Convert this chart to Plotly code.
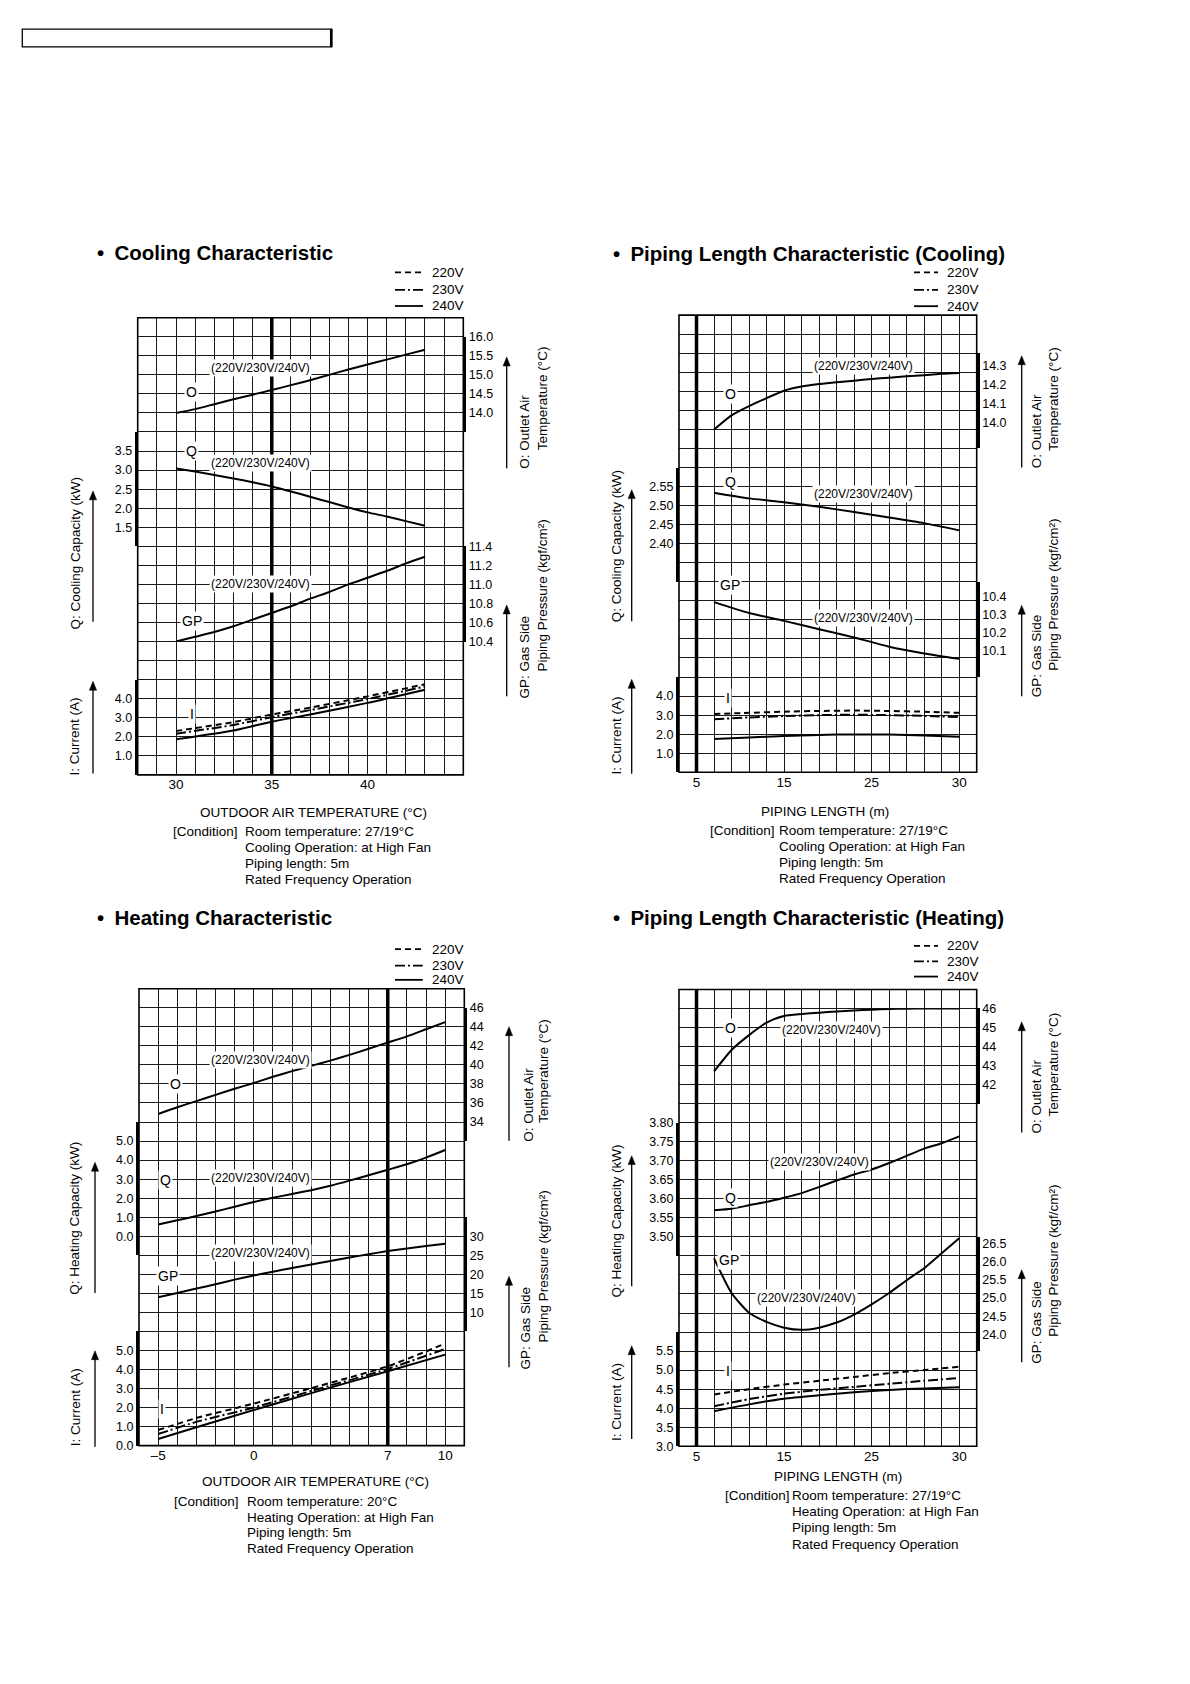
import plotly.graph_objects as go

W, H = 1190, 1684
FONT = "Liberation Sans, Arial, Helvetica, sans-serif"
GRID = "#1a1a1a"

# ======================= DATA =======================
# --- Cooling characteristic (x: outdoor air temperature, degC)
cool_temp = [30, 31, 32, 33, 34, 35, 36, 37, 38, 39, 40, 41, 42, 43]
cool_outlet_temp = [14.00, 14.10, 14.23, 14.36, 14.48, 14.60, 14.73, 14.86, 15.00, 15.14, 15.27, 15.40, 15.53, 15.66]
cool_capacity = [3.04, 2.96, 2.87, 2.78, 2.68, 2.57, 2.44, 2.30, 2.16, 2.02, 1.89, 1.78, 1.66, 1.54]
cool_gas_pressure = [10.40, 10.45, 10.50, 10.56, 10.63, 10.70, 10.77, 10.85, 10.92, 11.00, 11.07, 11.14, 11.22, 11.29]
cool_cur_temp = [30, 33, 35, 37, 40, 43]
cool_current_220v = [2.30, 2.77, 3.17, 3.53, 4.12, 4.76]
cool_current_230v = [2.16, 2.62, 3.03, 3.40, 3.98, 4.64]
cool_current_240v = [1.87, 2.33, 2.79, 3.17, 3.78, 4.47]

# --- Piping length characteristic (cooling) (x: axis units, ticks labelled 5/15/25/30)
pipe_len_ticks = [5, 15, 25, 35]
pipe_len_labels = ["5", "15", "25", "30"]
pc_len = [7, 9, 11, 13, 15, 17, 19, 21, 23, 25, 27, 29, 31, 33, 35]
pc_outlet_temp = [13.963, 14.038, 14.087, 14.129, 14.168, 14.190, 14.203, 14.213, 14.221, 14.230, 14.237, 14.244, 14.250, 14.257, 14.262]
pc_len2 = [7, 11, 15, 19, 23, 27, 31, 35]
pc_capacity = [2.534, 2.519, 2.509, 2.497, 2.483, 2.469, 2.454, 2.435]
pc_gas_pressure = [10.367, 10.307, 10.264, 10.218, 10.173, 10.122, 10.085, 10.055]
pc_current_220v = [3.06, 3.12, 3.18, 3.22, 3.24, 3.22, 3.18, 3.12]
pc_current_230v = [2.78, 2.88, 2.95, 3.00, 3.02, 3.00, 2.96, 2.90]
pc_current_240v = [1.75, 1.83, 1.90, 1.96, 1.99, 1.98, 1.93, 1.86]

# --- Heating characteristic (x: outdoor air temperature, degC)
heat_temp = [-5, -4, -3, -2, -1, 0, 1, 2, 3, 4, 5, 6, 7, 8, 9, 10]
heat_outlet_temp = [34.85, 35.55, 36.20, 36.85, 37.50, 38.10, 38.75, 39.35, 39.90, 40.45, 41.05, 41.70, 42.35, 43.00, 43.75, 44.50]
heat_capacity = [0.62, 0.84, 1.06, 1.30, 1.55, 1.80, 2.02, 2.22, 2.42, 2.65, 2.92, 3.20, 3.49, 3.78, 4.13, 4.53]
heat_gas_pressure = [13.96, 15.10, 16.25, 17.40, 18.60, 19.70, 20.70, 21.65, 22.60, 23.50, 24.40, 25.28, 26.10, 26.80, 27.45, 28.04]
heat_cur_temp = [-5, -3, 0, 3, 7, 10]
heat_current_220v = [0.82, 1.45, 2.21, 3.02, 4.17, 5.36]
heat_current_230v = [0.61, 1.25, 2.00, 2.87, 4.03, 5.08]
heat_current_240v = [0.35, 0.97, 1.87, 2.76, 3.91, 4.78]

# --- Piping length characteristic (heating)
ph_len = [7, 9, 11, 13, 15, 17, 19, 21, 23, 25, 27, 29, 31, 33, 35]
ph_outlet_temp = [42.69, 43.82, 44.60, 45.26, 45.61, 45.71, 45.78, 45.84, 45.89, 45.94, 45.97, 45.99, 46.00, 46.00, 46.00]
ph_capacity = [3.570, 3.574, 3.583, 3.592, 3.603, 3.615, 3.631, 3.648, 3.664, 3.677, 3.694, 3.713, 3.732, 3.746, 3.764]
ph_gas_pressure = [26.09, 25.14, 24.60, 24.35, 24.19, 24.13, 24.19, 24.33, 24.55, 24.83, 25.14, 25.49, 25.82, 26.23, 26.64]
ph_len2 = [7, 11, 15, 19, 23, 27, 31, 35]
ph_current_220v = [4.36, 4.50, 4.62, 4.72, 4.82, 4.92, 5.00, 5.09]
ph_current_230v = [4.05, 4.24, 4.38, 4.48, 4.56, 4.64, 4.72, 4.79]
ph_current_240v = [3.92, 4.10, 4.25, 4.34, 4.42, 4.48, 4.52, 4.55]

voltages = ["220V", "230V", "240V"]

# ======================= HELPERS =======================
SOLID = "solid"
DASH = "6px,4px"
DASHDOT = "10px,3px,2px,3px"
VDASH = {"220V": DASH, "230V": DASHDOT, "240V": SOLID}


def xd(v):
    return v / W


def yd(v):
    return 1 - v / H


def aname(k, n):
    return f"{k}axis" + ("" if n == 1 else str(n))


def aref(k, n):
    return k + ("" if n == 1 else str(n))


fig = go.Figure()
layout = {}
shapes = []
annotations = []


def ann(text, x, y, size=13.5, xanchor="center", yanchor="middle", weight="normal", **kw):
    d = dict(text=text, x=xd(x), y=yd(y), xref="paper", yref="paper", showarrow=False,
             xanchor=xanchor, yanchor=yanchor,
             font=dict(size=size, family=FONT, color="black", weight=weight))
    d.update(kw)
    annotations.append(d)


def arrow(x, tail, tip):
    shapes.append(dict(type="line", xref="paper", yref="paper", x0=xd(x), x1=xd(x), y0=yd(tail), y1=yd(tip + 6),
                       line=dict(color="black", width=1.3)))
    path = "M {:.5f},{:.5f} L {:.5f},{:.5f} L {:.5f},{:.5f} Z".format(
        xd(x - 3.6), yd(tip + 9), xd(x), yd(tip), xd(x + 3.6), yd(tip + 9))
    shapes.append(dict(type="path", xref="paper", yref="paper", path=path, fillcolor="black",
                       line=dict(color="black", width=0.5)))


KEYS = ["O", "Q", "GP", "I"]

# box = (left, top, right, bottom) of the graph paper in pixels; 17 columns x 24 rows
panels = [
    dict(box=(137.7, 313.3, 463.3, 774.3), xrange=[28, 45], xtv=[30, 35, 40], xtt=["30", "35", "40"], vline=35,
         axes=dict(O=((1, 6), [13.5, 16.0], [14.0, 14.5, 15.0, 15.5, 16.0], ".1f", "right"),
                   Q=((6, 12), [1.0, 4.0], [1.5, 2.0, 2.5, 3.0, 3.5], ".1f", "left"),
                   GP=((12, 17), [10.4, 11.4], [10.4, 10.6, 10.8, 11.0, 11.2, 11.4], ".1f", "right"),
                   I=((19, 24), [0.0, 5.0], [1.0, 2.0, 3.0, 4.0], ".1f", "left")),
         series=[("O", cool_temp, cool_outlet_temp, SOLID), ("Q", cool_temp, cool_capacity, SOLID),
                 ("GP", cool_temp, cool_gas_pressure, SOLID),
                 ("I", cool_cur_temp, cool_current_220v, VDASH["220V"]),
                 ("I", cool_cur_temp, cool_current_230v, VDASH["230V"]),
                 ("I", cool_cur_temp, cool_current_240v, VDASH["240V"])]),
    dict(box=(679.0, 310.7, 976.7, 771.7), xrange=[3, 37], xtv=pipe_len_ticks, xtt=pipe_len_labels, vline=5,
         axes=dict(O=((2, 7), [13.863, 14.366], [14.0, 14.1, 14.2, 14.3], ".1f", "right"),
                   Q=((8, 14), [2.30, 2.60], [2.40, 2.45, 2.50, 2.55], ".2f", "left"),
                   GP=((14, 19), [9.955, 10.479], [10.1, 10.2, 10.3, 10.4], ".1f", "right"),
                   I=((19, 24), [0.0, 5.0], [1.0, 2.0, 3.0, 4.0], ".1f", "left")),
         series=[("O", pc_len, pc_outlet_temp, SOLID), ("Q", pc_len2, pc_capacity, SOLID),
                 ("GP", pc_len2, pc_gas_pressure, SOLID),
                 ("I", pc_len2, pc_current_220v, VDASH["220V"]),
                 ("I", pc_len2, pc_current_230v, VDASH["230V"]),
                 ("I", pc_len2, pc_current_240v, VDASH["240V"])]),
    dict(box=(139.0, 990.0, 464.3, 1450.7), xrange=[-6, 11], xtv=[-5, 0, 7, 10], xtt=["\u20135", "0", "7", "10"],
         vline=7,
         axes=dict(O=((1, 8), [32, 46], [34, 36, 38, 40, 42, 44, 46], "d", "right"),
                   Q=((7, 14), [-1.0, 6.0], [0.0, 1.0, 2.0, 3.0, 4.0, 5.0], ".1f", "left"),
                   GP=((12, 18), [5, 35], [10, 15, 20, 25, 30], "d", "right"),
                   I=((18, 24), [0.0, 6.0], [0.0, 1.0, 2.0, 3.0, 4.0, 5.0], ".1f", "left")),
         series=[("O", heat_temp, heat_outlet_temp, SOLID), ("Q", heat_temp, heat_capacity, SOLID),
                 ("GP", heat_temp, heat_gas_pressure, SOLID),
                 ("I", heat_cur_temp, heat_current_220v, VDASH["220V"]),
                 ("I", heat_cur_temp, heat_current_230v, VDASH["230V"]),
                 ("I", heat_cur_temp, heat_current_240v, VDASH["240V"])]),
    dict(box=(679.0, 990.7, 976.7, 1451.3), xrange=[3, 37], xtv=pipe_len_ticks, xtt=pipe_len_labels, vline=5,
         axes=dict(O=((1, 6), [41, 46], [42, 43, 44, 45, 46], "d", "right"),
                   Q=((7, 14), [3.45, 3.80], [3.50, 3.55, 3.60, 3.65, 3.70, 3.75, 3.80], ".2f", "left"),
                   GP=((13, 19), [23.549, 26.677], [24.0, 24.5, 25.0, 25.5, 26.0, 26.5], ".1f", "right"),
                   I=((18, 24), [3.0, 6.0], [3.0, 3.5, 4.0, 4.5, 5.0, 5.5], ".1f", "left")),
         series=[("O", ph_len, ph_outlet_temp, SOLID), ("Q", ph_len, ph_capacity, SOLID),
                 ("GP", ph_len, ph_gas_pressure, SOLID),
                 ("I", ph_len2, ph_current_220v, VDASH["220V"]),
                 ("I", ph_len2, ph_current_230v, VDASH["230V"]),
                 ("I", ph_len2, ph_current_240v, VDASH["240V"])]),
]

for p, pn in enumerate(panels):
    L, T, R, B = pn["box"]
    rh = (B - T) / 24.0
    xg, xdn, yg = 2 * p + 1, 2 * p + 2, 5 * p + 1
    xdom = [xd(L), xd(R)]
    # graph-paper axes: 17 columns x 24 rows
    layout[aname("x", xg)] = dict(domain=xdom, range=[0, 17], dtick=1, tick0=0, showgrid=True, gridcolor=GRID,
                                  gridwidth=1, showticklabels=False, ticks="", zeroline=False, showline=False,
                                  anchor=aref("y", yg), fixedrange=True)
    layout[aname("y", yg)] = dict(domain=[yd(B), yd(T)], range=[0, 24], dtick=1, tick0=0, showgrid=True,
                                  gridcolor=GRID, gridwidth=1, showticklabels=False, ticks="", zeroline=False,
                                  showline=False, anchor=aref("x", xg), fixedrange=True)
    # data x axis
    layout[aname("x", xdn)] = dict(domain=xdom, range=pn["xrange"], tickmode="array", tickvals=pn["xtv"],
                                   ticktext=pn["xtt"], showgrid=False, zeroline=False, showline=False, ticks="",
                                   tickfont=dict(size=13.5), anchor=aref("y", yg), fixedrange=True)
    # empty placeholders so the graph-paper subplots exist
    fig.add_trace(go.Scatter(x=[None], y=[None], xaxis=aref("x", xg), yaxis=aref("y", yg),
                             showlegend=False, hoverinfo="skip"))
    fig.add_trace(go.Scatter(x=[None], y=[None], xaxis=aref("x", xdn), yaxis=aref("y", yg),
                             showlegend=False, hoverinfo="skip"))
    for j, key in enumerate(KEYS):
        (r0, r1), rng, tv, fmt, side = pn["axes"][key]
        yn = yg + 1 + j
        layout[aname("y", yn)] = dict(domain=[yd(T + r1 * rh), yd(T + r0 * rh)], range=rng, tickmode="array",
                                      tickvals=tv, tickformat=fmt, side=side, anchor=aref("x", xdn),
                                      showgrid=False, zeroline=False, showline=True, linewidth=3,
                                      linecolor="black", ticks="", tickfont=dict(size=12.5), fixedrange=True)
    for key, xs, ys, dash in pn["series"]:
        yn = yg + 1 + KEYS.index(key)
        fig.add_trace(go.Scatter(x=xs, y=ys, mode="lines", xaxis=aref("x", xdn), yaxis=aref("y", yn),
                                 line=dict(color="black", width=2, dash=dash, shape="spline", smoothing=0.6),
                                 showlegend=False, hoverinfo="skip"))
    shapes.append(dict(type="line", xref=aref("x", xdn), yref=aref("y", yg) + " domain", x0=pn["vline"],
                       x1=pn["vline"], y0=0, y1=1, line=dict(color="black", width=3.5)))
    shapes.append(dict(type="rect", xref="paper", yref="paper", x0=xd(L), x1=xd(R), y0=yd(B), y1=yd(T),
                       line=dict(color="black", width=1.6)))

# ======================= TEXT =======================
texts = [
    dict(title="Cooling Characteristic", tx=95, ty=248,
         leg=(395, 423, 430, [267.7, 285.3, 301.5]),
         xtitle=("OUTDOOR AIR TEMPERATURE (\u00b0C)", 313, 812.7),
         cond=(171, 243, [831.7, 847.9, 864.0, 880.2],
               ["Room temperature: 27/19\u00b0C", "Cooling Operation: at High Fan", "Piping length: 5m",
                "Rated Frequency Operation"]),
         left=[("Q: Cooling Capacity (kW)", 75, 551, 93, 620, 488), ("I: Current (A)", 75, 735.7, 93, 773, 680)],
         right=[("O: Outlet Air", 525, 428.3, "Temperature (\u00b0C)", 542.5, 395, 506.7, 465, 353),
                ("GP: Gas Side", 525, 656, "Piping Pressure (kgf/cm\u00b2)", 542.5, 594, 506.7, 695, 603)],
         labels=[("O", 191.7, 388.3), ("Q", 191.7, 447.7), ("GP", 191.7, 618.7), ("I", 191.7, 713.3)],
         vlabels=[(260, 364.3), (260, 460), (260, 582)]),
    dict(title="Piping Length Characteristic (Cooling)", tx=610.7, ty=248.3,
         leg=(914, 938, 945, [267.7, 285.3, 301.7]),
         xtitle=("PIPING LENGTH (m)", 825, 811),
         cond=(708.3, 776.7, [830, 846.5, 863, 879],
               ["Room temperature: 27/19\u00b0C", "Cooling Operation: at High Fan", "Piping length: 5m",
                "Rated Frequency Operation"]),
         left=[("Q: Cooling Capacity (kW)", 616.7, 544, 631.7, 619.3, 486.7),
               ("I: Current (A)", 616.7, 735, 631.7, 773.3, 678)],
         right=[("O: Outlet Air", 1036.7, 428, "Temperature (\u00b0C)", 1053.3, 395, 1021.7, 464.3, 351.7),
                ("GP: Gas Side", 1036.7, 654, "Piping Pressure (kgf/cm\u00b2)", 1053.3, 592.5, 1021.7, 695, 603.3)],
         labels=[("O", 730, 390.7), ("Q", 730, 479), ("GP", 730, 583.3), ("I", 728.3, 696.7)],
         vlabels=[(863.3, 361.7), (863.3, 490.7), (863.3, 615.7)]),
    dict(title="Heating Characteristic", tx=95, ty=918.3,
         leg=(395, 422.7, 430, [950, 966.7, 981]),
         xtitle=("OUTDOOR AIR TEMPERATURE (\u00b0C)", 315, 1487.3),
         cond=(172.3, 245, [1506.7, 1522.7, 1538.5, 1554.3],
               ["Room temperature: 20\u00b0C", "Heating Operation: at High Fan", "Piping length: 5m",
                "Rated Frequency Operation"]),
         left=[("Q: Heating Capacity (kW)", 75, 1222, 95, 1296.7, 1165),
               ("I: Current (A)", 75, 1412, 95, 1451.7, 1355)],
         right=[("O: Outlet Air", 528.3, 1106.7, "Temperature (\u00b0C)", 543.3, 1072.5, 509, 1143.3, 1028.3),
                ("GP: Gas Side", 525, 1332.5, "Piping Pressure (kgf/cm\u00b2)", 543, 1270, 509, 1371.7, 1280)],
         labels=[("O", 175, 1086), ("Q", 165, 1182.7), ("GP", 168.3, 1279.3), ("I", 161.7, 1414)],
         vlabels=[(260, 1062.3), (260, 1181), (260, 1256.7)]),
    dict(title="Piping Length Characteristic (Heating)", tx=610.7, ty=918.3,
         leg=(914, 938, 945, [946.7, 962.3, 977.7]),
         xtitle=("PIPING LENGTH (m)", 838.3, 1481.7),
         cond=(722.7, 790, [1501, 1517.3, 1533.5, 1550],
               ["Room temperature: 27/19\u00b0C", "Heating Operation: at High Fan", "Piping length: 5m",
                "Rated Frequency Operation"]),
         left=[("Q: Heating Capacity (kW)", 616.7, 1224, 631.7, 1290, 1158.3),
               ("I: Current (A)", 616.7, 1407, 631.7, 1444, 1350)],
         right=[("O: Outlet Air", 1036.7, 1099, "Temperature (\u00b0C)", 1053.3, 1066, 1021.7, 1135, 1023.3),
                ("GP: Gas Side", 1036.7, 1326, "Piping Pressure (kgf/cm\u00b2)", 1053.3, 1264, 1021.7, 1366.7,
                 1273.3)],
         labels=[("O", 730, 1029.3), ("Q", 730, 1200.7), ("GP", 729.3, 1263.3), ("I", 728.3, 1375.7)],
         vlabels=[(831.7, 1032), (819.3, 1165), (806, 1301.7)]),
]

for t in texts:
    ann("\u2022\u2002" + t["title"], t["tx"], t["ty"], size=20.5, xanchor="left", weight="bold")
    x0, x1, xt, ys = t["leg"]
    for v, yy in zip(voltages, ys):
        shapes.append(dict(type="line", xref="paper", yref="paper", x0=xd(x0), x1=xd(x1), y0=yd(yy), y1=yd(yy),
                           line=dict(color="black", width=1.8, dash=VDASH[v])))
        ann(v, xt, yy, size=13.5, xanchor="left")
    s, xx, yy = t["xtitle"]
    ann(s, xx, yy, size=13.5)
    cx0, cx1, cys, lines = t["cond"]
    ann("[Condition]", cx0, cys[0], size=13.5, xanchor="left")
    for s, yy in zip(lines, cys):
        ann(s, cx1, yy, size=13.5, xanchor="left")
    for s, xx, yy, axx, tail, tip in t["left"]:
        ann(s, xx, yy, size=13.5, textangle=-90)
        arrow(axx, tail, tip)
    for s1, x1_, y1_, s2, x2_, y2_, axx, tail, tip in t["right"]:
        ann(s1, x1_, y1_, size=13.5, textangle=-90)
        ann(s2, x2_, y2_, size=13.5, textangle=-90)
        arrow(axx, tail, tip)
    for s, xx, yy in t["labels"]:
        ann(s, xx, yy, size=14, bgcolor="white", borderpad=1)
    for xx, yy in t["vlabels"]:
        ann("(" + "/".join(voltages) + ")", xx, yy, size=12, bgcolor="white", borderpad=1)

# small header box
shapes.append(dict(type="rect", xref="paper", yref="paper", x0=xd(22.3), x1=xd(331.7), y0=yd(40.3), y1=yd(22.3),
                   line=dict(color="black", width=1.3)))
shapes.append(dict(type="line", xref="paper", yref="paper", x0=xd(331.2), x1=xd(331.2), y0=yd(40.3), y1=yd(22.3),
                   line=dict(color="black", width=2.5)))

layout.update(width=W, height=H, margin=dict(l=0, r=0, t=0, b=0), paper_bgcolor="white",
              plot_bgcolor="rgba(0,0,0,0)", showlegend=False, font=dict(family=FONT, color="black"),
              shapes=shapes, annotations=annotations)
fig.update_layout(**layout)
fig.write_html("out.html", config={"displayModeBar": False, "staticPlot": True},
               post_script="document.body.style.margin='0px';")
